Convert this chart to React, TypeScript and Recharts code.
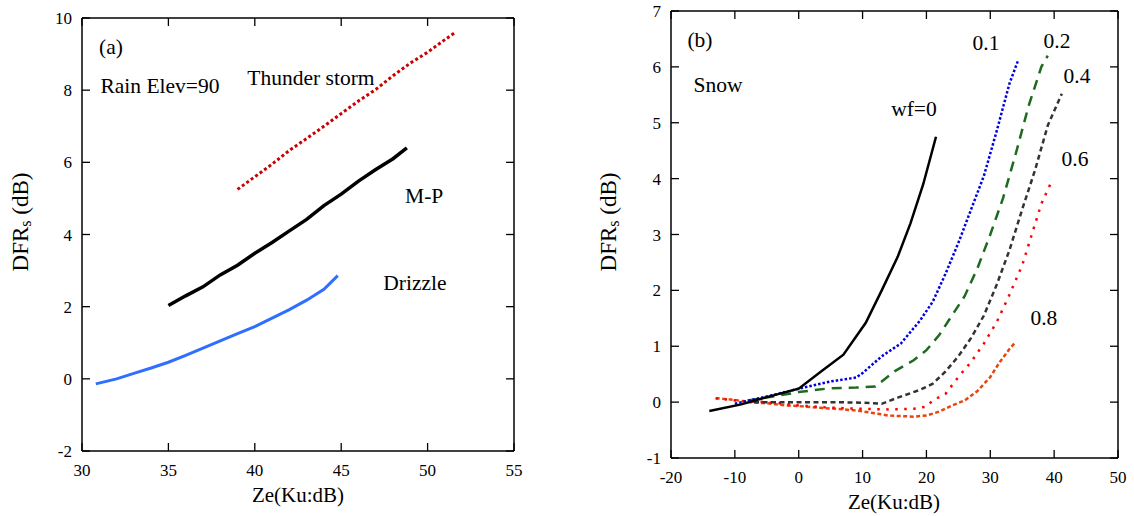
import React from "react";
import {
  LineChart,
  Line,
  XAxis,
  YAxis,
  ReferenceDot,
  ReferenceLine,
} from "recharts";

// ---- panel (a): rain, Ze vs DFRs ----
const rainXTicks = [30, 35, 40, 45, 50, 55];
const rainYTicks = [-2, 0, 2, 4, 6, 8, 10];

const thunderStorm = [
  [39, 5.25], [40, 5.6], [41, 5.95], [42, 6.33], [43, 6.66], [44, 7.0],
  [45, 7.35], [46, 7.7], [47, 8.02], [48, 8.4], [49, 8.75], [50, 9.05],
  [51, 9.4], [51.6, 9.6],
];
const marshallPalmer = [
  [35, 2.03], [36, 2.3], [37, 2.55], [38, 2.88], [39, 3.15], [40, 3.48],
  [41, 3.78], [42, 4.1], [43, 4.42], [44, 4.8], [45, 5.12], [46, 5.48],
  [47, 5.8], [48, 6.1], [48.8, 6.4],
];
const drizzle = [
  [30.8, -0.14], [32, 0.0], [33, 0.15], [34, 0.3], [35, 0.46], [36, 0.65],
  [37, 0.85], [38, 1.05], [39, 1.25], [40, 1.45], [41, 1.68], [42, 1.92],
  [43, 2.18], [44, 2.48], [44.8, 2.86],
];

// ---- panel (b): snow, by water fraction ----
const snowXTicks = [-20, -10, 0, 10, 20, 30, 40, 50];
const snowYTicks = [-1, 0, 1, 2, 3, 4, 5, 6, 7];

const wf00 = [
  [-14, -0.16], [-9, -0.04], [-5, 0.09], [0, 0.24], [3.5, 0.55], [7, 0.85],
  [10.5, 1.42], [13, 2.0], [15.5, 2.6], [17.5, 3.2], [19.5, 3.9], [21.5, 4.75],
];
const wf01 = [
  [-10, -0.03], [-5, 0.1], [0, 0.24], [5, 0.37], [9, 0.44], [10, 0.52],
  [13, 0.82], [16, 1.05], [19, 1.46], [21, 1.8], [23, 2.3], [25, 2.85],
  [27, 3.45], [29, 4.05], [31, 4.85], [33, 5.7], [34.4, 6.13],
];
const wf02 = [
  [-8, 0.03], [-4, 0.1], [0, 0.18], [5, 0.25], [9, 0.26], [12, 0.28],
  [15, 0.55], [18, 0.75], [20, 0.93], [22, 1.2], [24, 1.55], [26, 1.9],
  [28, 2.4], [30, 3.0], [32, 3.65], [34, 4.45], [36, 5.3], [38, 6.0], [39, 6.2],
];
const wf04 = [
  [-7, 0], [0, 0], [5, 0], [10, -0.01], [13, -0.03], [15.5, 0.08],
  [19, 0.22], [21, 0.33], [23, 0.55], [25, 0.82], [27, 1.15], [29, 1.55],
  [31, 2.1], [33, 2.72], [35, 3.45], [37, 4.15], [39, 4.95], [41.2, 5.52],
];
const wf06 = [
  [-13, 0.07], [-9, 0.02], [-5, 0], [0, -0.06], [5, -0.1], [10, -0.12],
  [14, -0.13], [18, -0.12], [20, -0.08], [21, 0.03], [23, 0.15], [25, 0.45],
  [27, 0.72], [29, 1.05], [31, 1.43], [33, 1.92], [35, 2.45], [36.5, 3.0],
  [38, 3.55], [39.6, 3.95],
];
const wf08 = [
  [-13, 0.07], [-10, 0.04], [-8, 0], [-5, -0.02], [-2, -0.06], [0, -0.07],
  [3, -0.1], [6, -0.12], [9, -0.15], [12, -0.2], [14, -0.24], [16, -0.25],
  [18, -0.26], [20, -0.24], [22, -0.17], [24, -0.06], [26, 0.03], [28, 0.2],
  [30, 0.45], [31.5, 0.72], [33, 0.95], [34, 1.08],
];

const toXY = (pts: number[][]) => pts.map(([x, y]) => ({ x, y }));

const FONT = "Liberation Serif";

// inward tick mark plus its number; tickMargin is 10, so the axis line is 10px back
const BottomTick = (p: any) => (
  <g>
    <line x1={p.x} x2={p.x} y1={p.y - 10} y2={p.y - 18} stroke="#000" strokeWidth={1.3} />
    <text x={p.x} y={p.y + 15} textAnchor="middle" fontSize={17} fontFamily={FONT} fill="#000">
      {p.payload.value}
    </text>
  </g>
);
const LeftTick = (p: any) => (
  <g>
    <line x1={p.x + 10} x2={p.x + 18} y1={p.y} y2={p.y} stroke="#000" strokeWidth={1.3} />
    <text x={p.x} y={p.y + 6} textAnchor="end" fontSize={17} fontFamily={FONT} fill="#000">
      {p.payload.value}
    </text>
  </g>
);

const note = (value: string) => ({
  value,
  position: "center" as const,
  fontSize: 21.5,
  fontFamily: FONT,
  fill: "#000",
});

const title: React.CSSProperties = {
  position: "absolute",
  fontFamily: FONT,
  color: "#000",
  whiteSpace: "nowrap",
  lineHeight: 1,
};

function RainPanel() {
  return (
    <LineChart width={560} height={516} margin={{ top: 18, right: 46, bottom: 35, left: 32 }}>
      <XAxis dataKey="x" type="number" domain={[30, 55]} ticks={rainXTicks} allowDataOverflow
        height={30} tickSize={0} tickMargin={10} tick={BottomTick} tickLine={false}
        axisLine={{ stroke: "#000", strokeWidth: 1.5 }} />
      <YAxis dataKey="y" type="number" domain={[-2, 10]} ticks={rainYTicks} allowDataOverflow
        width={50} tickSize={0} tickMargin={10} tick={LeftTick} tickLine={false}
        axisLine={{ stroke: "#000", strokeWidth: 1.5 }} />
      {/* top and right sides of the box, with inward ticks */}
      <ReferenceLine y={10} stroke="#000" strokeWidth={1.5} />
      <ReferenceLine x={55} stroke="#000" strokeWidth={1.5} />
      {rainXTicks.map((v) => (
        <ReferenceLine key={`t${v}`} segment={[{ x: v, y: 10 }, { x: v, y: 9.78 }]} stroke="#000" strokeWidth={1.3} />
      ))}
      {rainYTicks.map((v) => (
        <ReferenceLine key={`r${v}`} segment={[{ x: 55, y: v }, { x: 54.54, y: v }]} stroke="#000" strokeWidth={1.3} />
      ))}
      <Line data={toXY(drizzle)} dataKey="y" stroke="#2f6fff" strokeWidth={3} dot={false} isAnimationActive={false} />
      <Line data={toXY(marshallPalmer)} dataKey="y" stroke="#000" strokeWidth={3.5} dot={false} isAnimationActive={false} />
      <Line data={toXY(thunderStorm)} dataKey="y" stroke="#cc0000" strokeWidth={3} strokeDasharray="3 2.5" dot={false} isAnimationActive={false} />
      <ReferenceDot x={31.68} y={9.22} r={0} label={note("(a)")} />
      <ReferenceDot x={34.51} y={8.14} r={0} label={note("Rain Elev=90")} />
      <ReferenceDot x={43.25} y={8.36} r={0} label={note("Thunder storm")} />
      <ReferenceDot x={49.8} y={5.09} r={0} label={note("M-P")} />
      <ReferenceDot x={49.27} y={2.66} r={0} label={note("Drizzle")} />
    </LineChart>
  );
}

function SnowPanel() {
  return (
    <LineChart width={554} height={516} margin={{ top: 11, right: 16, bottom: 28, left: 41 }}>
      <XAxis dataKey="x" type="number" domain={[-20, 50]} ticks={snowXTicks} allowDataOverflow
        height={30} tickSize={0} tickMargin={10} tick={BottomTick} tickLine={false}
        axisLine={{ stroke: "#000", strokeWidth: 1.5 }} />
      <YAxis dataKey="y" type="number" domain={[-1, 7]} ticks={snowYTicks} allowDataOverflow
        width={50} tickSize={0} tickMargin={10} tick={LeftTick} tickLine={false}
        axisLine={{ stroke: "#000", strokeWidth: 1.5 }} />
      <ReferenceLine y={7} stroke="#000" strokeWidth={1.5} />
      <ReferenceLine x={50} stroke="#000" strokeWidth={1.5} />
      {snowXTicks.map((v) => (
        <ReferenceLine key={`t${v}`} segment={[{ x: v, y: 7 }, { x: v, y: 6.857 }]} stroke="#000" strokeWidth={1.3} />
      ))}
      {snowYTicks.map((v) => (
        <ReferenceLine key={`r${v}`} segment={[{ x: 50, y: v }, { x: 48.75, y: v }]} stroke="#000" strokeWidth={1.3} />
      ))}
      <Line data={toXY(wf08)} dataKey="y" stroke="#e8460f" strokeWidth={2.5} strokeDasharray="4 2.5" dot={false} isAnimationActive={false} />
      <Line data={toXY(wf06)} dataKey="y" stroke="#ff0000" strokeWidth={2.5} strokeDasharray="2.5 6.5" dot={false} isAnimationActive={false} />
      <Line data={toXY(wf04)} dataKey="y" stroke="#333333" strokeWidth={2.5} strokeDasharray="5 3.5" dot={false} isAnimationActive={false} />
      <Line data={toXY(wf02)} dataKey="y" stroke="#1e6b1e" strokeWidth={2.5} strokeDasharray="10 7" dot={false} isAnimationActive={false} />
      <Line data={toXY(wf01)} dataKey="y" stroke="#0000e0" strokeWidth={2.5} strokeDasharray="2.5 2" dot={false} isAnimationActive={false} />
      <Line data={toXY(wf00)} dataKey="y" stroke="#000" strokeWidth={2.5} dot={false} isAnimationActive={false} />
      <ReferenceDot x={-15.46} y={6.5} r={0} label={note("(b)")} />
      <ReferenceDot x={-12.64} y={5.68} r={0} label={note("Snow")} />
      <ReferenceDot x={18.05} y={5.26} r={0} label={note("wf=0")} />
      <ReferenceDot x={29.33} y={6.43} r={0} label={note("0.1")} />
      <ReferenceDot x={40.44} y={6.48} r={0} label={note("0.2")} />
      <ReferenceDot x={43.58} y={5.84} r={0} label={note("0.4")} />
      <ReferenceDot x={43.26} y={4.37} r={0} label={note("0.6")} />
      <ReferenceDot x={38.4} y={1.51} r={0} label={note("0.8")} />
    </LineChart>
  );
}

function YTitle({ cx }: { cx: number }) {
  return (
    <div style={{ ...title, left: cx, top: 222, fontSize: 23, transform: "translate(-50%, -50%) rotate(-90deg)" }}>
      DFR<span style={{ fontSize: 16, position: "relative", top: 3 }}>s</span> (dB)
    </div>
  );
}

function XTitle({ cx, cy }: { cx: number; cy: number }) {
  return (
    <div style={{ ...title, left: cx, top: cy, fontSize: 21, transform: "translate(-50%, -50%)" }}>
      Ze(Ku:dB)
    </div>
  );
}

export default function App() {
  return (
    <div style={{ position: "absolute", left: 0, top: 0, width: 1134, height: 516, background: "#fff" }}>
      <div style={{ position: "absolute", left: 0, top: 0 }}>
        <RainPanel />
      </div>
      <div style={{ position: "absolute", left: 580, top: 0 }}>
        <SnowPanel />
      </div>
      <YTitle cx={20} />
      <YTitle cx={608} />
      <XTitle cx={298} cy={495} />
      <XTitle cx={894} cy={502} />
    </div>
  );
}
